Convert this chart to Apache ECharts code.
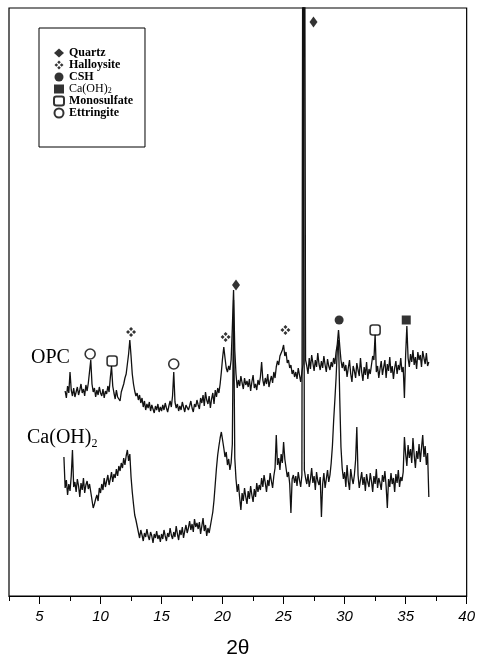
<!DOCTYPE html>
<html>
<head>
<meta charset="utf-8">
<script src="https://cdn.jsdelivr.net/npm/echarts@6/dist/echarts.min.js"></script>
<style>
  html, body { margin: 0; padding: 0; background: #fff; }
  #chart { width: 478px; height: 664px; }
</style>
</head>
<body>
<div id="chart"></div>
<script>
// scan grid (degrees 2-theta)
const opcStart = 7.1;
const calStart = 7.0;
const scanStep = 0.1;

// OPC trace, intensity (arbitrary units)
const opcCounts = [
  205, 198, 210, 203, 224, 206, 200, 208, 199, 204,
  209, 201, 206, 212, 203, 207, 200, 211, 205, 213,
  214, 236, 212, 204, 208, 199, 206, 201, 209, 203,
  200, 207, 198, 205, 202, 210, 204, 218, 230, 210,
  203, 197, 206, 199, 201, 195, 204, 208, 212, 218,
  222, 232, 242, 256, 240, 222, 212, 205, 200, 203,
  196, 201, 193, 198, 189, 195, 186, 192, 188, 194,
  185, 191, 187, 183, 190, 186, 192, 184, 189, 185,
  191, 186, 193, 188, 184, 190, 195, 189, 200, 224,
  194, 188, 192, 185, 190, 186, 194, 189, 184, 191,
  193, 186, 190, 195, 188, 184, 192, 189, 196, 191,
  187, 198, 193, 201, 190, 204, 196, 192, 200, 188,
  197, 203, 192, 206, 199, 208, 203, 212, 224, 238,
  249, 238, 228, 224, 230, 226, 236, 268, 306, 246,
  222, 208, 216, 210, 220, 213, 207, 218, 211, 215,
  209, 217, 205, 214, 221, 208, 212, 206, 216, 211,
  219, 234, 216, 210, 218, 212, 222, 209, 215, 220,
  213, 224, 218, 229, 235, 231, 240, 242, 246, 251,
  240, 244, 233, 236, 228, 231, 222, 226, 219, 224,
  217, 228, 221, 214, 224, 232, 900, 236, 230, 222,
  238, 227, 241, 233, 225, 236, 229, 243, 232, 226,
  235, 228, 240, 231, 224, 237, 230, 226, 234, 229,
  238, 232, 244, 252, 266, 250, 236, 228, 234, 225,
  231, 219, 228, 236, 222, 214, 230, 225, 218, 233,
  226, 220, 238, 224, 215, 229, 221, 234, 217, 227,
  222, 231, 240, 236, 262, 224, 230, 218, 227, 235,
  221, 229, 236, 218, 232, 225, 239, 223, 230, 217,
  228, 235, 222, 231, 226, 238, 224, 229, 198, 241,
  270, 238, 229, 242, 234, 246, 231, 239, 227, 244,
  236, 241, 229, 245, 238, 232, 243, 230, 234
];

// Ca(OH)2 trace
const calCounts = [
  139, 108, 116, 101, 112, 105, 120, 146, 109, 114,
  104, 117, 110, 99, 113, 106, 118, 103, 111, 115,
  107, 112, 104, 96, 88, 92, 97, 101, 95, 108,
  103, 112, 106, 118, 109, 115, 121, 111, 117, 124,
  114, 122, 118, 127, 120, 130, 125, 133, 128, 138,
  131, 140, 146, 135, 142, 119, 104, 92, 81, 76,
  70, 64, 58, 66, 61, 55, 63, 59, 67, 60,
  56, 64, 60, 53, 62, 58, 65, 57, 61, 54,
  62, 57, 66, 60, 55, 63, 59, 68, 61, 57,
  64, 59, 70, 62, 56, 66, 61, 69, 58, 65,
  71, 63, 68, 75, 66, 72, 64, 77, 69, 73,
  67, 74, 62, 70, 78, 65, 71, 60, 68, 63,
  70, 77, 84, 96, 112, 128, 141, 150, 158, 164,
  156, 148, 139, 144, 131, 137, 126, 133, 152, 296,
  138, 117, 104, 112, 98, 86, 103, 95, 108, 99,
  92, 105, 97, 110, 101, 94, 107, 99, 113, 104,
  111, 106, 118, 109, 121, 113, 104, 116, 110, 123,
  115, 108, 120, 128, 161, 131, 138, 126, 142, 133,
  154, 137, 128, 119, 124, 112, 83, 117, 121, 113,
  120, 110, 124, 116, 109, 121, 940, 126, 118, 112,
  122, 109, 117, 128, 113, 120, 106, 124, 115, 111,
  119, 79, 112, 123, 108, 117, 126, 114, 121, 133,
  150, 175, 196, 218, 246, 256, 198, 149, 128, 117,
  124, 109, 131, 115, 106, 127, 118, 112, 121, 136,
  169, 121, 108, 116, 124, 111, 119, 105, 122, 114,
  109, 123, 115, 104, 120, 112, 127, 108, 118, 113,
  106, 121, 114, 125, 110, 88, 117, 109, 123, 112,
  118, 104, 122, 113, 126, 109, 119, 115, 124, 159,
  142, 130, 151, 138, 147, 133, 158, 141, 128, 145,
  137, 152, 134, 148, 161, 139, 150, 131, 143, 99
];

// phase markers [2theta, height]
const quartzMarks = [[21.1, 311], [27.45, 574]];
const halloysiteMarks = [[12.5, 264], [20.25, 259], [25.15, 266]];
const cshMarks = [[29.55, 276]];
const portlanditeMarks = [[35.05, 276]];
const monosulfateMarks = [[10.95, 235], [32.5, 266]];
const ettringiteMarks = [[9.15, 242], [16.0, 232]];

const majorTicks = [5, 10, 15, 20, 25, 30, 35, 40];
const minorTicks = [2.5, 7.5, 12.5, 17.5, 22.5, 27.5, 32.5, 37.5];

const toPairs = (start, arr) => arr.map((v, i) => [+(start + i * scanStep).toFixed(2), v]);

const serif = '"Liberation Serif", "Times New Roman", serif';
const hallPath = 'path://M5,0L7,2L5,4L3,2Z M8,3L10,5L8,7L6,5Z M5,6L7,8L5,10L3,8Z M2,3L4,5L2,7L0,5Z';

const lineStyle = { color: '#111', width: 1.3 };
const marker = (name, data, symbol, size, style) => ({
    name, type: 'scatter', data, symbol, symbolSize: size,
    itemStyle: style, z: 5, clip: false, silent: true
});

const chart = echarts.init(document.getElementById('chart'), null, { renderer: 'canvas' });
chart.setOption({
    animation: false,
    grid: { left: 9, right: 11, top: 8, bottom: 68, show: true, borderColor: '#000', borderWidth: 1.2 },
    xAxis: [
        {
            type: 'value', min: 2.5, max: 40,
            axisLine: { show: true, lineStyle: { color: '#000', width: 1.2 } },
            axisTick: { show: true, customValues: majorTicks, length: 8, lineStyle: { color: '#000' } },
            axisLabel: {
                customValues: majorTicks, margin: 13, color: '#000',
                fontSize: 15, fontStyle: 'italic', fontFamily: '"Liberation Sans", Arial, sans-serif'
            },
            splitLine: { show: false },
            name: '2θ', nameLocation: 'middle', nameGap: 42,
            nameTextStyle: { fontSize: 21, color: '#000', fontFamily: '"Liberation Sans", Arial, sans-serif' }
        },
        {
            type: 'value', min: 2.5, max: 40, position: 'bottom',
            axisLine: { show: false },
            axisTick: { show: true, customValues: minorTicks, length: 5, lineStyle: { color: '#000' } },
            axisLabel: { show: false },
            splitLine: { show: false }
        }
    ],
    yAxis: { type: 'value', min: 0, max: 588, show: false },
    legend: {
        orient: 'vertical', left: 39, top: 28,
        padding: [19, 12, 28, 14],
        borderColor: '#000', borderWidth: 1,
        itemWidth: 10, itemHeight: 9, itemGap: 0,
        selectedMode: false,
        data: ['Quartz', 'Halloysite', 'CSH', 'Ca(OH)2', 'Monosulfate', 'Ettringite'],
        formatter: (name) => name === 'Ca(OH)2' ? '{r|Ca(OH)}{s|2}' : name,
        textStyle: {
            fontFamily: serif, fontSize: 12, fontWeight: 'bold', color: '#000', lineHeight: 12,
            rich: {
                r: { fontFamily: serif, fontSize: 12, fontWeight: 'normal', color: '#000', lineHeight: 12 },
                s: { fontFamily: serif, fontSize: 8, fontWeight: 'normal', color: '#000', lineHeight: 6, verticalAlign: 'bottom' }
            }
        }
    },
    graphic: [
        { type: 'text', left: 31, top: 348, style: { text: 'OPC', font: '20px ' + serif, fill: '#000' } },
        {
            type: 'text', left: 27, top: 428,
            style: {
                text: '{a|Ca(OH)}{b|2}', fill: '#000',
                rich: {
                    a: { fontFamily: serif, fontSize: 20, lineHeight: 24, fill: '#000' },
                    b: { fontFamily: serif, fontSize: 12, lineHeight: 12, verticalAlign: 'bottom', fill: '#000' }
                }
            }
        }
    ],
    series: [
        { name: 'OPC', type: 'line', data: toPairs(opcStart, opcCounts), showSymbol: false, lineStyle, clip: true, silent: true, z: 2 },
        { name: 'Ca(OH)2 paste', type: 'line', data: toPairs(calStart, calCounts), showSymbol: false, lineStyle, clip: true, silent: true, z: 2 },
        marker('Quartz', quartzMarks, 'diamond', [8, 11], { color: '#000' }),
        marker('Halloysite', halloysiteMarks, hallPath, 10, { color: '#000' }),
        marker('CSH', cshMarks, 'circle', 9, { color: '#000' }),
        marker('Ca(OH)2', portlanditeMarks, 'rect', 9, { color: '#000' }),
        marker('Monosulfate', monosulfateMarks, 'roundRect', 10, { color: '#fff', borderColor: '#000', borderWidth: 1.6 }),
        marker('Ettringite', ettringiteMarks, 'circle', 10, { color: '#fff', borderColor: '#000', borderWidth: 1.6 })
    ]
});
</script>
</body>
</html>
